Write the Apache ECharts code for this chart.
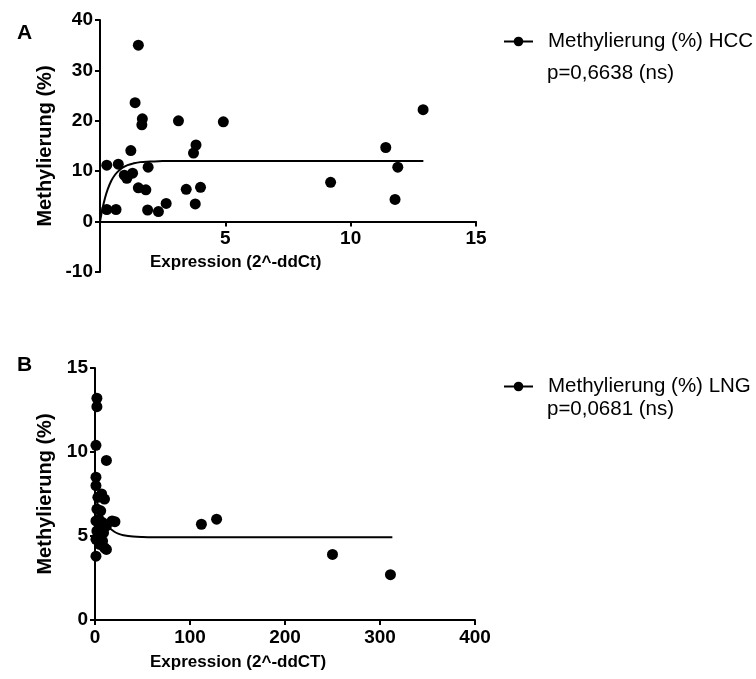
<!DOCTYPE html>
<html>
<head>
<meta charset="utf-8">
<script src="https://cdn.jsdelivr.net/npm/echarts@6/dist/echarts.min.js"></script>
<style>html,body{margin:0;padding:0;background:#fff}#c{width:756px;height:679px}</style>
</head>
<body>
<div id="c"></div>
<script>
// Panel A (HCC) scatter points [expression, methylation]
const hccPoints = [
  [1.53,35.0],[1.40,23.6],[1.69,20.4],[1.67,19.2],[3.13,20.0],[4.92,19.8],
  [3.83,15.2],[3.73,13.6],[1.23,14.1],[0.27,11.2],[0.73,11.4],[1.92,10.8],
  [0.97,9.2],[1.07,8.6],[1.30,9.6],[1.53,6.7],[1.83,6.3],[3.44,6.4],
  [4.01,6.8],[3.80,3.5],[2.64,3.6],[2.33,2.0],[1.90,2.3],[0.27,2.4],
  [0.64,2.4],[12.89,22.2],[11.40,14.7],[11.88,10.8],[9.20,7.8],[11.77,4.4]
];
// Panel A fitted curve
const hccCurveX = [0, 0.1, 0.2, 0.3, 0.45, 0.6, 0.75, 0.9, 1.1, 1.3, 1.6, 2.0, 2.5, 3.5, 12.9];
const hccCurveY = [0, 2.6, 4.7, 6.3, 8.1, 9.3, 10.1, 10.7, 11.2, 11.5, 11.8, 11.9, 12.0, 12.0, 12.0];

// Panel B (LNG) scatter points
const lngPoints = [
  [2,13.2],[2,12.7],[1,10.4],[12,9.5],[1,8.5],[1,8.0],[7,7.5],[3,7.3],[10,7.2],
  [2,6.6],[6,6.5],[4,6.0],[1,5.9],[8,5.8],[18,5.9],[21,5.85],[12,5.6],[5,5.5],
  [2,5.3],[9,5.2],[3,5.0],[1,4.8],[8,4.7],[5,4.5],[12,4.2],[10,4.3],[1,3.8],
  [112,5.7],[128,6.0],[250,3.9],[311,2.7]
];
const lngCurveX = [0, 3, 6, 10, 15, 20, 25, 30, 40, 50, 70, 313];
const lngCurveY = [7.5, 6.85, 6.35, 5.88, 5.5, 5.27, 5.13, 5.05, 4.97, 4.94, 4.92, 4.92];

// Tick settings
const xTicksA = {min: 0, max: 15, interval: 5};
const yTicksA = {min: -10, max: 40, interval: 10};
const xTicksB = {min: 0, max: 400, interval: 100};
const yTicksB = {min: 0, max: 15, interval: 5};

const nameA = 'Methylierung (%) HCC';
const nameB = 'Methylierung (%) LNG';
const pA = 'p=0,6638 (ns)';
const pB = 'p=0,0681 (ns)';
const yTitle = 'Methylierung (%)';
const xTitleA = 'Expression (2^-ddCt)';
const xTitleB = 'Expression (2^-ddCT)';

const FONT = '"Liberation Sans", Arial, Helvetica, sans-serif';
const lineStyle = {color: '#000', width: 2};
const tickStyle = {show: true, inside: false, length: 5, lineStyle: lineStyle};
const labelStyle = {color: '#000', fontWeight: 'bold', fontSize: 19, fontFamily: FONT};

function xAxis(t, grid, hideZero, offset) {
  return Object.assign({
    type: 'value', gridIndex: grid, position: 'bottom', offset: offset,
    axisLine: {show: true, onZero: false, lineStyle: lineStyle},
    axisTick: tickStyle, splitLine: {show: false},
    axisLabel: Object.assign({margin: 8, formatter: v => (hideZero && v === 0) ? '' : String(v)}, labelStyle)
  }, t);
}
function yAxis(t, grid, gap) {
  return Object.assign({
    type: 'value', gridIndex: grid,
    axisLine: {show: true, onZero: false, lineStyle: lineStyle},
    axisTick: tickStyle, splitLine: {show: false},
    axisLabel: Object.assign({margin: 7}, labelStyle),
    name: yTitle, nameLocation: 'middle', nameGap: gap, nameRotate: 90,
    nameTextStyle: {color: '#000', fontWeight: 'bold', fontSize: 20, fontFamily: FONT}
  }, t);
}

const chart = echarts.init(document.getElementById('c'), null, {renderer: 'canvas'});
chart.setOption({
  animation: false,
  backgroundColor: '#fff',
  grid: [
    {left: 100, top: 20, width: 376, height: 252},
    {left: 95, top: 368, width: 380, height: 252}
  ],
  xAxis: [xAxis(xTicksA, 0, true, -50.4), xAxis(xTicksB, 1, false, 0)],
  yAxis: [yAxis(yTicksA, 0, 45), yAxis(yTicksB, 1, 39)],
  title: [
    {text: 'A', left: 12, top: 18, textStyle: {fontSize: 21, fontWeight: 'bold', color: '#000', fontFamily: FONT}},
    {text: 'B', left: 12, top: 350, textStyle: {fontSize: 21, fontWeight: 'bold', color: '#000', fontFamily: FONT}},
    {text: xTitleA, left: 150, top: 254, padding: 0, textStyle: {fontSize: 17, fontWeight: 'bold', color: '#000', fontFamily: FONT}},
    {text: xTitleB, left: 150, top: 654, padding: 0, textStyle: {fontSize: 17, fontWeight: 'bold', color: '#000', fontFamily: FONT}},
    {text: pA, left: 547, top: 63, padding: 0, textStyle: {fontSize: 20.5, fontWeight: 'normal', color: '#000', fontFamily: FONT}},
    {text: pB, left: 547, top: 399, padding: 0, textStyle: {fontSize: 20.5, fontWeight: 'normal', color: '#000', fontFamily: FONT}}
  ],
  legend: [
    {data: [nameA], left: 503, top: 31, padding: 0, itemWidth: 29, itemHeight: 12,
     textStyle: {fontSize: 20.5, color: '#000', fontFamily: FONT, padding: [0, 0, 0, 10]}},
    {data: [nameB], left: 503, top: 376, padding: 0, itemWidth: 29, itemHeight: 12,
     textStyle: {fontSize: 20.5, color: '#000', fontFamily: FONT, padding: [0, 0, 0, 10]}}
  ],
  series: [
    {type: 'scatter', name: 'HCC points', xAxisIndex: 0, yAxisIndex: 0, data: hccPoints,
     symbol: 'circle', symbolSize: 11, itemStyle: {color: '#000', opacity: 1}, silent: true},
    {type: 'line', name: nameA, xAxisIndex: 0, yAxisIndex: 0,
     data: hccCurveX.map((x, i) => [x, hccCurveY[i]]), smooth: 0.4,
     symbol: 'circle', symbolSize: 9, showSymbol: false,
     itemStyle: {color: '#000'}, lineStyle: {color: '#000', width: 2}},
    {type: 'scatter', name: 'LNG points', xAxisIndex: 1, yAxisIndex: 1, data: lngPoints,
     symbol: 'circle', symbolSize: 11, itemStyle: {color: '#000', opacity: 1}, silent: true},
    {type: 'line', name: nameB, xAxisIndex: 1, yAxisIndex: 1,
     data: lngCurveX.map((x, i) => [x, lngCurveY[i]]), smooth: 0.4,
     symbol: 'circle', symbolSize: 9, showSymbol: false,
     itemStyle: {color: '#000'}, lineStyle: {color: '#000', width: 2}}
  ]
});
</script>
</body>
</html>
